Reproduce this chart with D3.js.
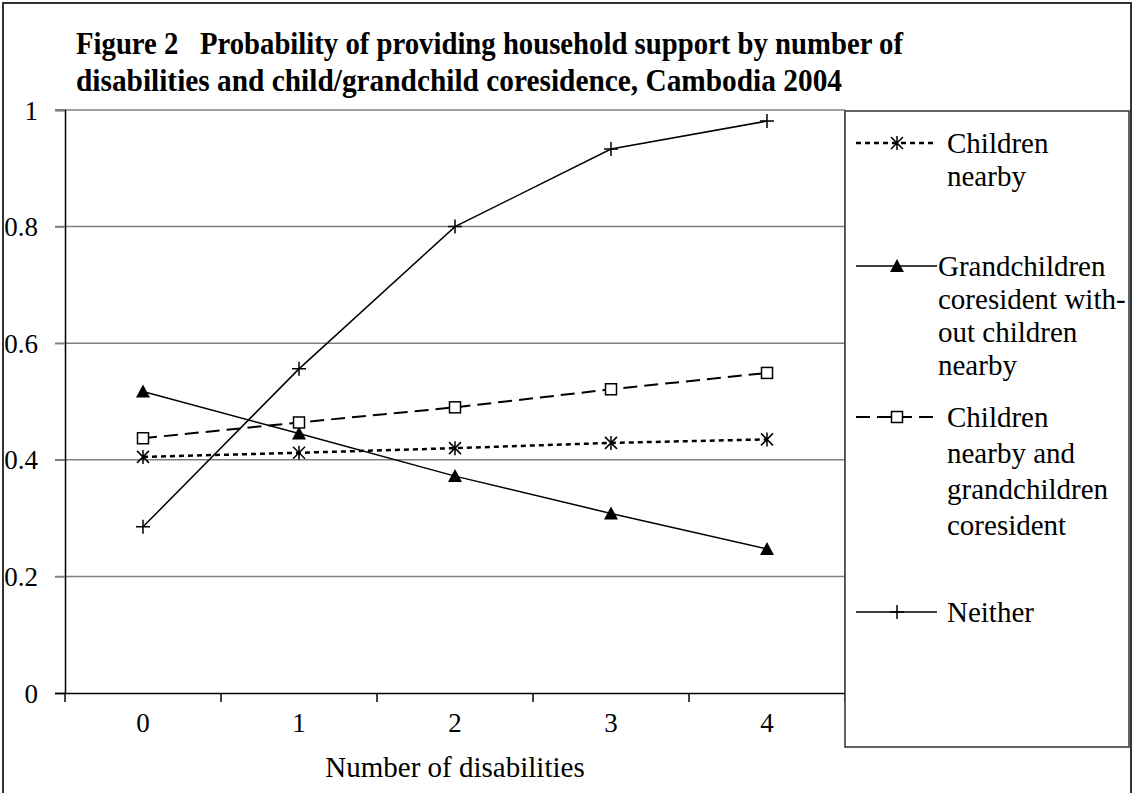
<!DOCTYPE html>
<html><head><meta charset="utf-8">
<script src="https://cdn.jsdelivr.net/npm/d3@7"></script>
<style>
body{margin:0;background:#fff}
svg{display:block}
text{font-family:"Liberation Serif","Times New Roman",serif;fill:#000}
</style>
</head><body><svg id="c" width="1133" height="793"></svg>
<script>
// ---- data ----
const categories = ["0", "1", "2", "3", "4"];
const childrenNearby = [0.405, 0.412, 0.420, 0.429, 0.435];
const grandchildrenOnly = [0.517, 0.445, 0.372, 0.308, 0.247];
const childrenAndGrand = [0.437, 0.464, 0.490, 0.521, 0.549];
const neither = [0.285, 0.556, 0.800, 0.933, 0.981];
const yTicks = [0, 0.2, 0.4, 0.6, 0.8, 1];
const yTickLabels = ["0", "0.2", "0.4", "0.6", "0.8", "1"];
const titleLines = ["Figure 2   Probability of providing household support by number of",
                    "disabilities and child/grandchild coresidence, Cambodia 2004"];
const xAxisTitle = "Number of disabilities";
const legendLabels = [
  ["Children", "nearby"],
  ["Grandchildren", "coresident with-", "out children", "nearby"],
  ["Children", "nearby and", "grandchildren", "coresident"],
  ["Neither"]
];

// ---- layout ----
const W = 1133, H = 793;
const plot = {left: 65, right: 845, top: 110, bottom: 693};
const svg = d3.select("#c");

const x = d3.scaleBand().domain(categories).range([plot.left, plot.right]);
const y = d3.scaleLinear().domain([0, 1]).range([plot.bottom, plot.top]);
const cx = c => x(c) + x.bandwidth() / 2;

// outer border
svg.append("rect").attr("x", 3).attr("y", 3).attr("width", W - 5).attr("height", H + 10)
  .attr("fill", "none").attr("stroke", "#333").attr("stroke-width", 2);

// title
const titleW = [827, 766];
titleLines.forEach((t, i) => {
  svg.append("text").attr("x", 76).attr("y", 54 + i * 37)
    .attr("font-size", 31).attr("font-weight", "bold")
    .attr("xml:space", "preserve").style("white-space", "pre")
    .attr("textLength", titleW[i]).attr("lengthAdjust", "spacingAndGlyphs")
    .text(t);
});

// gridlines
svg.append("g").selectAll("line").data(yTicks.filter(d => d > 0)).join("line")
  .attr("x1", plot.left - 10).attr("x2", plot.right)
  .attr("y1", d => y(d)).attr("y2", d => y(d))
  .attr("stroke", "#808080").attr("stroke-width", 1.5);
// plot right border
svg.append("line").attr("x1", plot.right).attr("x2", plot.right)
  .attr("y1", plot.top).attr("y2", plot.bottom).attr("stroke", "#808080").attr("stroke-width", 1.5);

// y axis
const yAxis = d3.axisLeft(y).tickValues(yTicks).tickSize(10).tickPadding(17)
  .tickFormat((d, i) => yTickLabels[i]);
const gy = svg.append("g").attr("transform", `translate(${plot.left},0)`).call(yAxis);
gy.select(".domain").attr("stroke", "#000").attr("stroke-width", 1.5);
gy.selectAll(".tick line").attr("stroke", d => d === 0 ? "#000" : "#808080").attr("stroke-width", 1.5);
gy.selectAll(".tick text").attr("font-size", 27).attr("font-family", "Liberation Serif").attr("dy", "0.34em");

// x axis
const xAxis = d3.axisBottom(x).tickSize(0).tickPadding(20);
const gx = svg.append("g").attr("transform", `translate(0,${plot.bottom})`).call(xAxis);
gx.select(".domain").attr("stroke", "#000").attr("stroke-width", 1.5);
gx.selectAll(".tick text").attr("font-size", 27).attr("font-family", "Liberation Serif").attr("dy", "0.71em");
// between-category ticks
const edges = categories.map(c => x(c)).concat([plot.right]);
svg.append("g").selectAll("line").data(edges).join("line")
  .attr("x1", d => d).attr("x2", d => d).attr("y1", plot.bottom).attr("y2", plot.bottom + 9)
  .attr("stroke", "#000").attr("stroke-width", 1.5);

svg.append("text").attr("x", (plot.left + plot.right) / 2).attr("y", 777)
  .attr("text-anchor", "middle").attr("font-size", 29).text(xAxisTitle);

// ---- series ----
const markers = {
  asterisk: g => g.append("path").attr("d", "M-6,-6L6,6M-6,6L6,-6M0,-7V7").attr("stroke", "#000").attr("stroke-width", 1.5).attr("fill", "none"),
  triangle: g => g.append("path").attr("d", "M0,-7L7,6H-7Z").attr("fill", "#000"),
  square: g => g.append("rect").attr("x", -5.5).attr("y", -5.5).attr("width", 11).attr("height", 11).attr("fill", "#fff").attr("stroke", "#000").attr("stroke-width", 1.5),
  plus: g => g.append("path").attr("d", "M-7,0H7M0,-7V7").attr("stroke", "#000").attr("stroke-width", 1.5)
};
const series = [
  {values: childrenNearby, dash: "5,4", width: 2.5, marker: "asterisk"},
  {values: grandchildrenOnly, dash: null, width: 1.5, marker: "triangle"},
  {values: childrenAndGrand, dash: "14,7", width: 2, marker: "square"},
  {values: neither, dash: null, width: 1.5, marker: "plus"}
];
const line = d3.line().x((d, i) => cx(categories[i])).y(d => y(d));
series.forEach(s => {
  svg.append("path").attr("d", line(s.values)).attr("fill", "none")
    .attr("stroke", "#000").attr("stroke-width", s.width).attr("stroke-dasharray", s.dash);
  s.values.forEach((v, i) => {
    const g = svg.append("g").attr("transform", `translate(${cx(categories[i])},${y(v)})`);
    markers[s.marker](g);
  });
});

// ---- legend ----
svg.append("rect").attr("x", 845).attr("y", 111).attr("width", 284).attr("height", 636)
  .attr("fill", "#fff").attr("stroke", "#333").attr("stroke-width", 1.5);
const legY = [143, 266, 417, 612];
const legTextX = [947, 938, 947, 947];
const lineH = [33, 33, 36, 34];
series.forEach((s, k) => {
  const ly = legY[k];
  svg.append("line").attr("x1", 856).attr("x2", 937).attr("y1", ly).attr("y2", ly)
    .attr("stroke", "#000").attr("stroke-width", s.width).attr("stroke-dasharray", s.dash);
  markers[s.marker](svg.append("g").attr("transform", `translate(897,${ly})`));
  legendLabels[k].forEach((t, j) => {
    svg.append("text").attr("x", legTextX[k]).attr("y", ly + 10 + j * lineH[k])
      .attr("font-size", 29).text(t);
  });
});
</script>
</body></html>
